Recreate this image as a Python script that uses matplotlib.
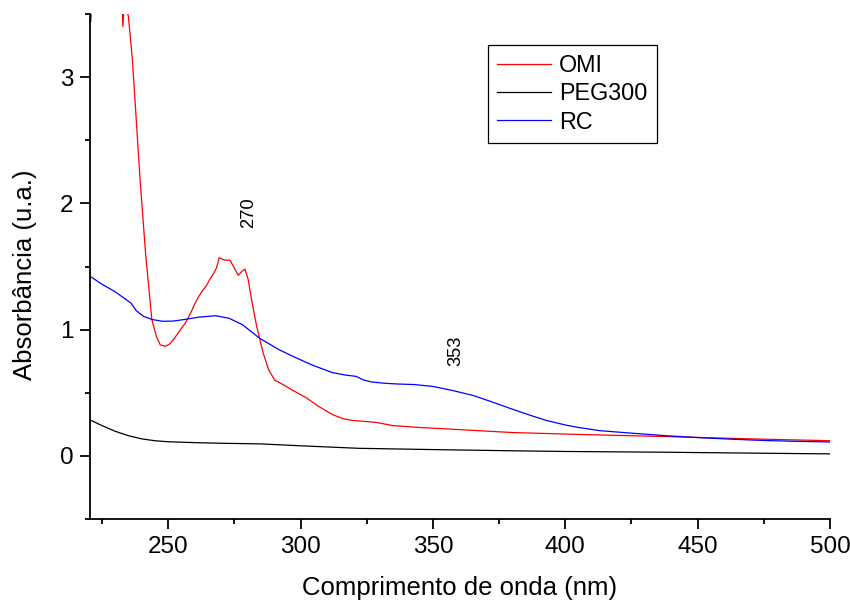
import matplotlib
matplotlib.use("Agg")
import matplotlib.pyplot as plt
from matplotlib.ticker import MultipleLocator

plt.rcParams['font.family'] = ['Liberation Sans', 'DejaVu Sans']

omi_x = [220.0, 220.8, 221.8, 226, 231, 232.5, 232.9, 233.4, 234.2, 235.0, 236.5, 238, 239.4,
         241.5, 243.85, 245.5, 247, 248.9, 250.5, 252, 254, 256.4, 258.5, 260.2, 261.5, 262.7,
         264.5, 265.8, 267, 268.3, 269.3, 270.2, 271.5, 273.4, 275.2, 276.5, 277.8, 279.0,
         280.2, 281.5, 283.4, 285.9, 288, 290.3, 293, 297, 302.2, 307, 312.3, 316, 319.8,
         325, 328.6, 334.9, 345, 355, 367, 380, 405, 438, 470, 500]
omi_y = [3.42, 3.44, 3.8, 4.0, 3.9, 3.7, 3.40, 3.56, 3.56, 3.48, 3.14, 2.65, 2.19,
         1.6, 1.08, 0.95, 0.88, 0.868, 0.885, 0.92, 0.98, 1.05, 1.13, 1.21, 1.26, 1.30,
         1.35, 1.40, 1.44, 1.49, 1.57, 1.56, 1.55, 1.55, 1.48, 1.43, 1.46, 1.48,
         1.40, 1.24, 1.03, 0.815, 0.68, 0.60, 0.57, 0.52, 0.46, 0.39, 0.325, 0.295, 0.28,
         0.272, 0.265, 0.24, 0.225, 0.214, 0.20, 0.185, 0.17, 0.153, 0.135, 0.12]

peg_x = [220, 225, 230, 235, 240, 245, 250, 260, 270, 285, 300, 322, 350, 375, 400, 438, 470, 500]
peg_y = [0.29, 0.24, 0.195, 0.16, 0.135, 0.12, 0.112, 0.105, 0.10, 0.095, 0.08, 0.06, 0.05,
         0.042, 0.035, 0.029, 0.022, 0.016]

rc_x = [220, 225, 230, 234, 236, 238, 240.7, 244, 248, 252, 256, 262, 268, 273, 278, 284.7,
        292, 298, 304.7, 312, 317, 321, 324, 327, 332, 336, 343, 350, 357, 365, 372, 380,
        387, 393, 400, 405, 413, 425, 438, 450, 463, 475, 488, 500]
rc_y = [1.43, 1.36, 1.30, 1.24, 1.21, 1.15, 1.105, 1.08, 1.066, 1.068, 1.08, 1.10, 1.11, 1.09,
        1.04, 0.93, 0.84, 0.78, 0.717, 0.66, 0.64, 0.63, 0.60, 0.585, 0.575, 0.57, 0.565,
        0.55, 0.52, 0.48, 0.43, 0.37, 0.32, 0.28, 0.245, 0.225, 0.20, 0.18, 0.16, 0.145,
        0.132, 0.122, 0.115, 0.11]

series_labels = ["OMI", "PEG300", "RC"]
annot_text = ["270", "353"]
annot_x = [280.5, 358.8]
annot_y = [1.93, 0.83]

fig = plt.figure(figsize=(8.5, 6.04), dpi=100)
ax = fig.add_axes([0.1059, 0.1407, 0.8706, 0.8361])

ax.plot(omi_x, omi_y, color='#ff0000', lw=0.9, label=series_labels[0])
ax.plot(peg_x, peg_y, color='black', lw=0.9, label=series_labels[1])
ax.plot(rc_x, rc_y, color='#0000ff', lw=0.9, label=series_labels[2])

for t, x, y in zip(annot_text, annot_x, annot_y):
    ax.text(x, y, t, rotation=90, ha='center', va='center', fontsize=13.2)

ax.set_xlim(220.5, 500)
ax.set_ylim(-0.5, 3.5)
ax.xaxis.set_major_locator(MultipleLocator(50))
ax.xaxis.set_minor_locator(MultipleLocator(25))
ax.yaxis.set_major_locator(MultipleLocator(1))
ax.yaxis.set_minor_locator(MultipleLocator(0.5))

for s in ['top', 'right']:
    ax.spines[s].set_visible(False)
for s in ['left', 'bottom']:
    ax.spines[s].set_linewidth(1.3)

ax.tick_params(which='major', direction='out', length=7, width=1.3, labelsize=17.5, pad=5)
ax.tick_params(which='minor', direction='out', length=3.5, width=1.3)

ax.set_xlabel("Comprimento de onda (nm)", fontsize=18.5)
ax.set_ylabel("Absorbância (u.a.)", fontsize=18.5)
ax.xaxis.set_label_coords(0.5, -0.137)
ax.yaxis.set_label_coords(-0.088, 0.483)
ax.xaxis.label.set_va('center')
ax.yaxis.label.set_va('center')

leg = ax.legend(loc='upper left', bbox_to_anchor=(0.538, 0.9386), fontsize=16.8,
                frameon=True, fancybox=False, edgecolor='black', framealpha=1,
                handlelength=2.3, handletextpad=0.35, labelspacing=0.22, borderpad=0.4,
                borderaxespad=0)
leg.get_frame().set_linewidth(0.9)

fig.savefig("out.png", dpi=100)
